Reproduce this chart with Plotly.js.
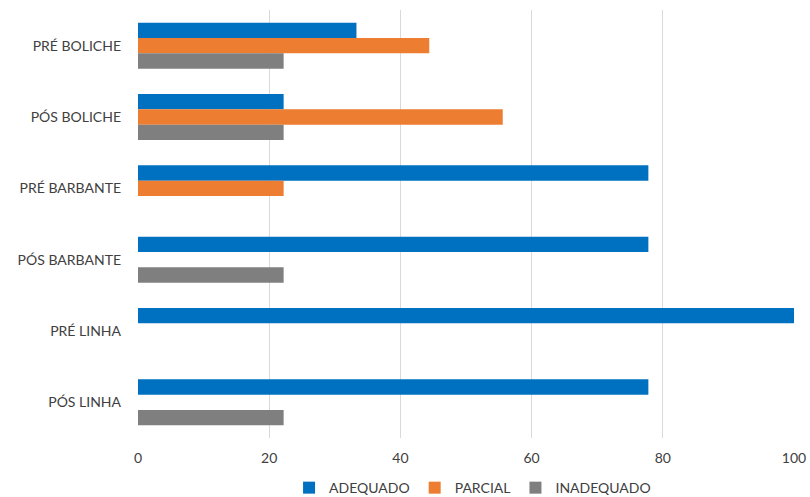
<!DOCTYPE html>
<html>
<head>
<meta charset="utf-8">
<script src="https://cdn.plot.ly/plotly-3.0.1.min.js"></script>
<style>
  html, body { margin: 0; padding: 0; background: #fff; }
  #chart { width: 810px; height: 497px; }
</style>
</head>
<body>
<div id="chart"></div>
<script>
// Stages of the activity, top to bottom
const categories = ['PRÉ BOLICHE', 'PÓS BOLICHE', 'PRÉ BARBANTE', 'PÓS BARBANTE', 'PRÉ LINHA', 'PÓS LINHA'];

// Percentage of participants per outcome
const adequado   = [33.3, 22.2, 77.8, 77.8, 100, 77.8];
const parcial    = [44.4, 55.6, 22.2, 0, 0, 0];
const inadequado = [22.2, 22.2, 0, 22.2, 0, 22.2];

const xTicks = [0, 20, 40, 60, 80, 100];

const seriesNames = ['ADEQUADO', 'PARCIAL', 'INADEQUADO'];
const seriesColors = ['#0070C0', '#ED7D31', '#7F7F7F'];
const seriesValues = [adequado, parcial, inadequado];

const traces = seriesValues.map((vals, i) => ({
  type: 'bar',
  orientation: 'h',
  name: seriesNames[i],
  y: categories,
  x: vals,
  marker: { color: seriesColors[i] },
  hoverinfo: 'x+name'
}));

const font = { family: 'Lato, "Open Sans", sans-serif', size: 14, color: '#404040' };

const layout = {
  width: 810,
  height: 497,
  margin: { l: 138, r: 16, t: 10, b: 59 },
  paper_bgcolor: '#ffffff',
  plot_bgcolor: '#ffffff',
  font: font,
  barmode: 'group',
  bargap: 0.355,
  bargroupgap: 0,
  showlegend: true,
  legend: {
    orientation: 'h',
    xref: 'paper',
    x: 0.51, xanchor: 'center',
    yref: 'container',
    y: 0.018, yanchor: 'middle',
    font: font,
    itemwidth: 30,
    tracegroupgap: 0
  },
  xaxis: {
    range: [0, 100],
    tickvals: xTicks,
    ticktext: xTicks.map(String),
    showgrid: true,
    gridcolor: '#d9d9d9',
    gridwidth: 1,
    zeroline: false,
    showline: false,
    ticks: '',
    ticklabelstandoff: 10,
    fixedrange: true
  },
  yaxis: {
    type: 'category',
    autorange: 'reversed',
    showgrid: false,
    zeroline: false,
    showline: false,
    ticks: '',
    ticklabelstandoff: 16,
    fixedrange: true
  }
};

Plotly.newPlot('chart', traces, layout, { displayModeBar: false, staticPlot: true });
</script>
</body>
</html>
